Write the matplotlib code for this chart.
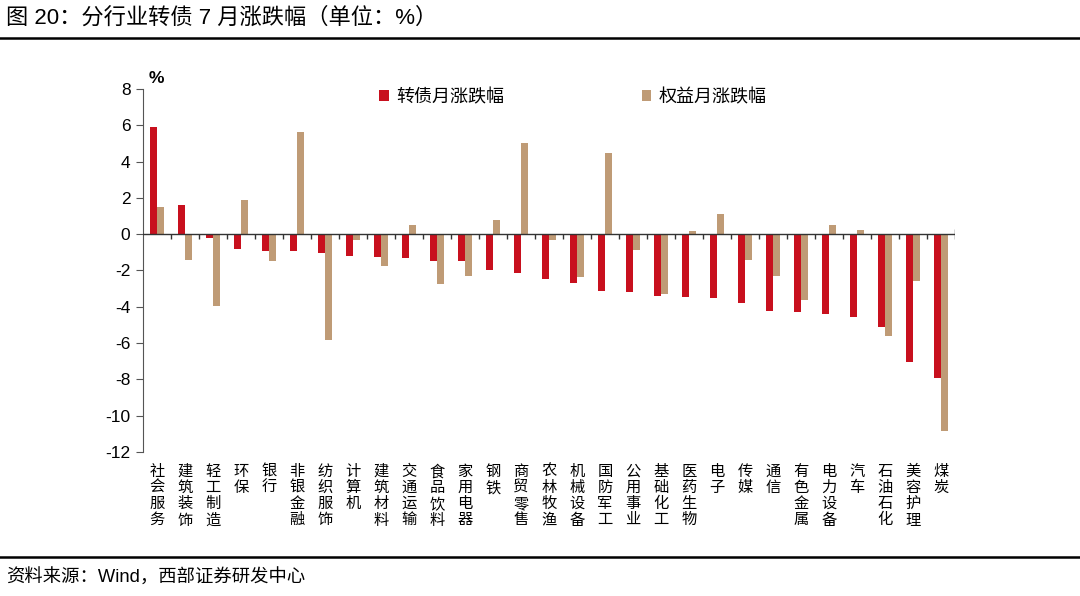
import numpy as np
import matplotlib.pyplot as plt
from matplotlib.lines import Line2D

plt.rcParams['font.family'] = ['Liberation Sans', 'Noto Sans CJK SC', 'DejaVu Sans']

hangye = ['社会服务', '建筑装饰', '轻工制造', '环保', '银行', '非银金融', '纺织服饰',
          '计算机', '建筑材料', '交通运输', '食品饮料', '家用电器', '钢铁', '商贸零售',
          '农林牧渔', '机械设备', '国防军工', '公用事业', '基础化工', '医药生物', '电子',
          '传媒', '通信', '有色金属', '电力设备', '汽车', '石油石化', '美容护理', '煤炭']
zhuanzhai = [5.9, 1.6, -0.2, -0.8, -0.9, -0.95, -1.05, -1.2, -1.25, -1.3, -1.45, -1.5,
             -1.95, -2.15, -2.45, -2.7, -3.15, -3.2, -3.4, -3.45, -3.5, -3.8, -4.25,
             -4.3, -4.4, -4.55, -5.1, -7.05, -7.95]
quanyi = [1.5, -1.4, -3.95, 1.9, -1.45, 5.65, -5.85, -0.3, -1.75, 0.5, -2.75, -2.3,
          0.8, 5.0, -0.3, -2.35, 4.45, -0.85, -3.3, 0.2, 1.1, -1.4, -2.3, -3.65, 0.5,
          0.22, -5.6, -2.6, -10.85]
yticks = np.arange(-12, 9, 2)

rojo = '#C8101E'
tostado = '#BF9B76'

fig = plt.figure(figsize=(10.8, 5.96), dpi=100)
ax = fig.add_axes([0.1324, 0.2416, 0.7518, 0.6091])

x = np.arange(len(hangye))
ancho = 0.25
ax.bar(x - ancho / 2, zhuanzhai, ancho, color=rojo, label='转债月涨跌幅')
ax.bar(x + ancho / 2, quanyi, ancho, color=tostado, label='权益月涨跌幅')

ax.set_xlim(-0.5, len(hangye) - 0.5)
ax.set_ylim(-12, 8)
ax.set_yticks(yticks)
ax.set_yticklabels([str(v) for v in yticks], fontsize=12.5)

# zero line with small ticks between categories
ax.axhline(0, color='#333333', lw=1, zorder=3)
ax.vlines(x[:-1] + 0.5, -0.28, 0, color='#333333', lw=1, zorder=3)
ax.vlines([len(hangye) - 0.5], -0.28, 0.28, color='#333333', lw=1, zorder=3)

ax.set_xticks(x)
ax.set_xticklabels(['\n'.join(h) for h in hangye], fontsize=11, va='top',
                   linespacing=1.2)
ax.tick_params(axis='x', length=0, pad=9)
ax.tick_params(axis='y', direction='out', length=5, color='#555555', pad=4)

for lado in ['top', 'right', 'bottom']:
    ax.spines[lado].set_visible(False)
ax.spines['left'].set_color('#555555')

ax.text(-0.3, 8.15, '%', fontsize=12.5, fontweight='bold', ha='left', va='bottom')

fig.legend(loc='upper left', bbox_to_anchor=(0.336, 0.878), ncol=2, frameon=False,
           fontsize=13, handlelength=0.55, handleheight=0.55, handletextpad=0.4,
           columnspacing=7.6)

fig.text(0.006, 0.97, '图 20：分行业转债 7 月涨跌幅（单位：%）', fontsize=16,
         ha='left', va='center')
fig.add_artist(Line2D([0, 1], [0.937, 0.937], color='black', lw=1.8))
fig.add_artist(Line2D([0, 1], [0.065, 0.065], color='black', lw=1.8))
fig.text(0.006, 0.03, '资料来源：Wind，西部证券研发中心', fontsize=13.2,
         ha='left', va='center')

plt.savefig('out.png', dpi=100)
